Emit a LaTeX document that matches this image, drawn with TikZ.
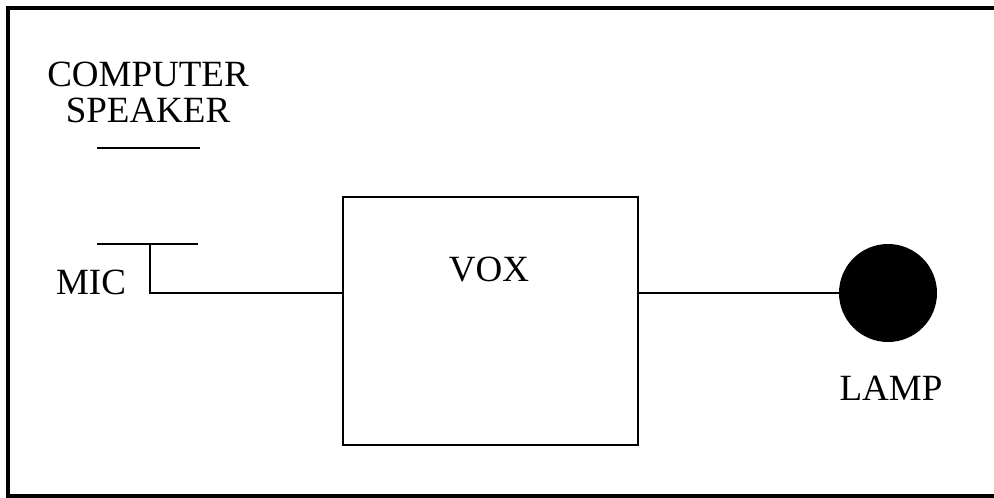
\documentclass[tikz,border=0pt]{standalone}
\usepackage{fontspec}
\setmainfont{Liberation Serif}
\begin{document}
\begin{tikzpicture}[x=1pt,y=-1pt,
  lbl/.style={inner sep=0pt, font=\fontsize{37}{36}\selectfont, align=center},
  wire/.style={line width=1.5pt},
  frame/.style={line width=4pt},
  voxbox/.style={draw, line width=1.8pt, minimum width=295pt, minimum height=248pt, inner sep=0pt},
  lampdot/.style={circle, fill=black, minimum size=98pt, inner sep=0pt}]
\clip (0,0) rectangle (994,498);
\fill[white] (0,0) rectangle (994,498);
% outer frame (right side lies beyond the picture)
\draw[frame] (1100,8) -- (8,8) -- (8,496) -- (1100,496);
% labels
\node[lbl] (spk) at (148,92) {COMPUTER\\SPEAKER};
\node[lbl] (mic) at (91,282) {MIC};
% speaker and microphone strokes
\coordinate (spkL) at (97,148);
\coordinate (spkR) at (200,148);
\draw[wire] (spkL) -- (spkR);
\coordinate (micL) at (97,244);
\coordinate (micR) at (198,244);
\coordinate (micT) at (150,244);
\draw[wire] (micL) -- (micR);
% VOX box
\node[voxbox] (vox) at (490.5,321) {};
\node[lbl] (voxt) at (489,270) {VOX};
% lamp
\node[lampdot] (lamp) at (888,293) {};
\node[lbl] (lampt) at (891,388) {LAMP};
% connectors
\draw[wire] (micT) |- (vox.west |- 0,293);
\draw[wire] (vox.east |- lamp.west) -- (lamp.west);
\end{tikzpicture}
\end{document}
